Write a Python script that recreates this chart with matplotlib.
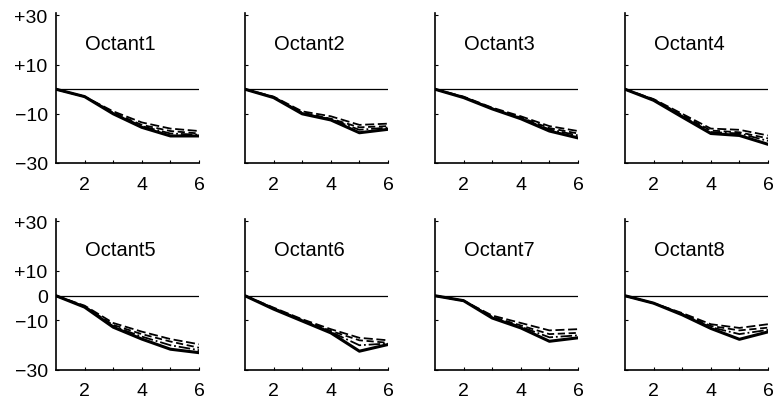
import matplotlib
matplotlib.use("Agg")
import matplotlib.pyplot as plt

plt.rcParams['font.family'] = ['Liberation Sans', 'DejaVu Sans']

x = [1, 2, 3, 4, 5, 6]
titles = ["Octant1", "Octant2", "Octant3", "Octant4",
          "Octant5", "Octant6", "Octant7", "Octant8"]

solid = [
    [0, -3.0, -10.0, -15.5, -19.0, -19.0],
    [0, -3.4, -10.0, -12.5, -17.7, -16.3],
    [0, -3.4, -8.0, -12.0, -17.0, -19.8],
    [0, -4.5, -11.3, -18.0, -18.8, -22.4],
    [0, -4.6, -12.7, -17.5, -21.6, -23.0],
    [0, -5.4, -10.2, -15.0, -22.4, -19.7],
    [0, -2.0, -9.0, -13.0, -18.4, -17.0],
    [0, -3.0, -7.7, -13.2, -17.6, -14.6],
]
dashed1 = [
    [0, -3.0, -9.0, -13.5, -16.0, -17.0],
    [0, -3.0, -9.0, -11.0, -14.5, -14.0],
    [0, -3.0, -7.5, -11.0, -15.0, -17.0],
    [0, -4.0, -10.0, -16.0, -16.5, -18.8],
    [0, -4.0, -11.0, -14.5, -17.5, -19.6],
    [0, -4.8, -9.5, -13.5, -17.0, -18.0],
    [0, -2.0, -8.0, -11.0, -14.0, -13.5],
    [0, -3.0, -7.0, -11.5, -13.0, -11.5],
]
dashed2 = [
    [0, -3.0, -9.5, -14.5, -17.0, -18.0],
    [0, -3.2, -9.5, -12.0, -15.5, -15.0],
    [0, -3.2, -7.8, -11.5, -15.8, -18.0],
    [0, -4.2, -10.5, -16.8, -17.5, -20.0],
    [0, -4.3, -11.8, -15.5, -18.5, -21.0],
    [0, -5.0, -9.8, -14.2, -18.0, -19.0],
    [0, -2.0, -8.5, -12.0, -15.5, -15.0],
    [0, -3.0, -7.3, -12.2, -14.0, -12.9],
]
dashdot = [
    [0, -3.0, -9.8, -15.0, -18.0, -18.5],
    [0, -3.3, -9.8, -12.2, -16.5, -15.6],
    [0, -3.3, -7.9, -11.8, -16.3, -18.8],
    [0, -4.4, -10.9, -17.4, -18.0, -21.0],
    [0, -4.5, -12.3, -16.5, -20.0, -22.0],
    [0, -5.2, -10.0, -14.6, -20.0, -19.3],
    [0, -2.0, -8.8, -12.5, -16.8, -16.0],
    [0, -3.0, -7.5, -12.7, -15.5, -13.8],
]

fig = plt.figure(figsize=(7.75, 4.02), dpi=100)
W, H = 775.0, 402.0
lefts = [56, 245, 435, 625]
rows = [(14, 164), (220, 371)]

for i in range(8):
    r, c = divmod(i, 4)
    top, bot = rows[r]
    ax = fig.add_axes([lefts[c] / W, (H - bot) / H, 143 / W, (bot - top) / H])
    ax.plot([1, 6], [0, 0], color='black', lw=0.9)
    ax.plot(x, dashed1[i], color='black', lw=1.3, ls=(0, (5, 2)))
    ax.plot(x, dashed2[i], color='black', lw=1.3, ls=(0, (4, 2)))
    ax.plot(x, dashdot[i], color='black', lw=1.3, ls='-.')
    ax.plot(x, solid[i], color='black', lw=2.2)
    ax.set_xlim(1, 6)
    ax.set_ylim(-30, 31)
    for s in ['top', 'right']:
        ax.spines[s].set_visible(False)
    for s in ['left', 'bottom']:
        ax.spines[s].set_linewidth(1.2)
    ax.set_xticks([2, 3, 4, 5, 6])
    ax.set_xticklabels(['2', '', '4', '', '6'])
    if r == 0:
        ax.set_yticks([30, 10, -10, -30])
        ax.set_yticklabels(['+30', '+10', '\u221210', '\u221230'])
    else:
        ax.set_yticks([30, 10, 0, -10, -30])
        ax.set_yticklabels(['+30', '+10', '0', '\u221210', '\u221230'])
    ax.tick_params(direction='in', length=2, width=0.8, labelsize=14)
    ax.tick_params(axis='x', pad=9)
    ax.tick_params(axis='y', pad=6)
    if c != 0:
        ax.set_yticklabels([])
    ax.text(2.0, 18.5, titles[i], fontsize=14.5, ha='left', va='center')

fig.savefig("out.png", dpi=100)
